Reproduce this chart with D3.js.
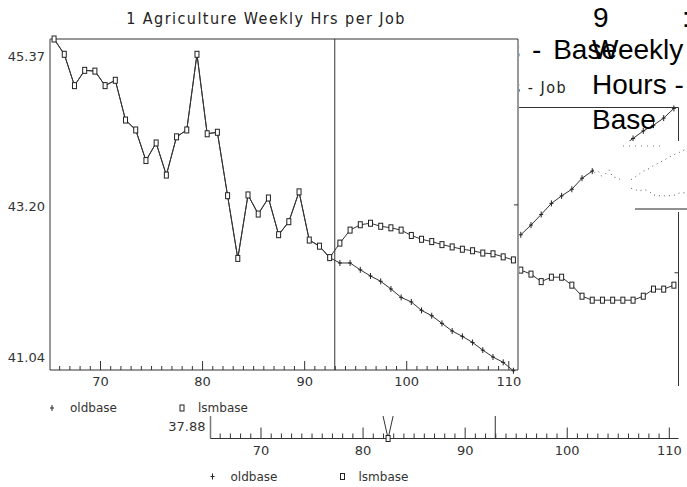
<!DOCTYPE html>
<html>
<head>
<meta charset="utf-8">
<script src="https://cdn.jsdelivr.net/npm/d3@7/dist/d3.min.js"></script>
<style>
  body { margin: 0; background: #fff; }
  svg { display: block; }
  .axisText { font-family: 'DejaVu Sans', sans-serif; font-size: 13px; fill: #333; }
  .legendText { font-family: 'DejaVu Sans', sans-serif; font-size: 12px; fill: #333; }
  .titleText { font-family: 'DejaVu Sans Condensed', 'DejaVu Sans', sans-serif; font-stretch: condensed; font-size: 16px; fill: #222; letter-spacing: 1.45px; }
  .bigText { font-family: 'Liberation Sans', Arial, sans-serif; font-size: 28px; fill: #000; }
</style>
</head>
<body>
<div id="chart"></div>
<script>
// Main window: both runs share the history up to 1992
var histYears = [1965, 1966, 1967, 1968, 1969, 1970, 1971, 1972, 1973, 1974,
    1975, 1976, 1977, 1978, 1979, 1980, 1981, 1982, 1983, 1984,
    1985, 1986, 1987, 1988, 1989, 1990, 1991, 1992];
var histValues = [45.37, 45.17, 44.76, 44.96, 44.95, 44.76, 44.83, 44.31, 44.18, 43.78,
    44.01, 43.59, 44.09, 44.18, 45.17, 44.13, 44.15, 43.32, 42.50, 43.33,
    43.08, 43.29, 42.81, 42.98, 43.37, 42.74, 42.66, 42.51];
var fcstYears = [1993, 1994, 1995, 1996, 1997, 1998, 1999, 2000, 2001,
    2002, 2003, 2004, 2005, 2006, 2007, 2008, 2009, 2010];
var lsmbaseFcst = [42.70, 42.87, 42.94, 42.96, 42.92, 42.90, 42.87, 42.80, 42.75,
    42.72, 42.68, 42.65, 42.62, 42.60, 42.57, 42.56, 42.52, 42.48];
var oldbaseFcst = [42.44, 42.44, 42.35, 42.27, 42.20, 42.10, 41.99, 41.93, 41.82,
    41.75, 41.65, 41.55, 41.48, 41.40, 41.30, 41.21, 41.14, 41.03];
var yTickValues = [45.37, 43.20, 41.04];
var xMajorTicks = [70, 80, 90, 100, 110];
var forecastStart = 93;
var mainTitle = '1 Agriculture Weekly Hrs per Job';
var seriesNames = ['oldbase', 'lsmbase'];

// Second window behind the main one, only its edges show
var backTitle = '1 Agriculture Weekly Hrs - Job';
var backYTicks = [45.37, 41.63, 37.88];
var backRightYears = [1995, 1996, 1997, 1998, 1999, 2000, 2001, 2002,
    2003, 2004, 2005, 2006, 2007, 2008, 2009, 2010];
var backRightLsmbase = [41.69, 41.60, 41.43, 41.53, 41.53, 41.35, 41.10, 41.01,
    41.01, 41.01, 41.01, 41.01, 41.10, 41.26, 41.26, 41.35];
var backRightOldbase = [42.49, 42.71, 42.95, 43.20, 43.37, 43.52, 43.77, 43.93,
    44.11, 44.30, 44.50, 44.67, 44.84, 44.97, 45.13, 45.35];
var backLowYears = [1981, 1982, 1983];
var backLowLsmbase = [38.91, 37.88, 38.91];

// Title window text on the right (justified lines)
var bigTitleTop = ['9', ':'];
var bigTitleLines = ['Weekly', 'Hours -', 'Base'];
var hiddenTitle = 'Weekly Hours - Base';

var svgWidth = 687;
var svgHeight = 487;

var svg = d3.select('#chart')
    .append('svg')
    .attr('width', svgWidth)
    .attr('height', svgHeight);

// points sit mid-year
function pos(year) {
    return year - 1900 + 0.5;
}

function drawPlus(g, pts) {
    g.selectAll('path.plus')
        .data(pts)
        .enter()
        .append('path')
        .attr('class', 'plus')
        .attr('d', (d) => `M${d[0] - 2},${d[1]}h4M${d[0]},${d[1] - 3}v6`)
        .attr('stroke', '#222')
        .attr('stroke-width', 1)
        .attr('fill', 'none');
}

function drawSquares(g, pts) {
    g.selectAll('rect.sq')
        .data(pts)
        .enter()
        .append('rect')
        .attr('class', 'sq')
        .attr('x', (d) => d[0] - 2)
        .attr('y', (d) => d[1] - 3)
        .attr('width', 4)
        .attr('height', 6)
        .attr('fill', '#fff')
        .attr('stroke', '#222')
        .attr('stroke-width', 1);
}

function zipSeries(years, values) {
    return years.map((y, i) => ({ year: y, value: values[i] }));
}

// One plot window, same layout for the front and back windows
function drawPanel(g, p) {
    var line = d3.line()
        .x((d) => p.x(pos(d.year)))
        .y((d) => p.y(d.value));

    // frame
    g.append('line').attr('x1', p.left).attr('x2', p.right).attr('y1', p.top).attr('y2', p.top)
        .attr('stroke', '#333');
    g.append('line').attr('x1', p.right).attr('x2', p.right).attr('y1', p.top).attr('y2', p.rightEnd || p.bottom)
        .attr('stroke', '#333');
    g.append('line').attr('x1', p.left).attr('x2', p.left).attr('y1', p.top).attr('y2', p.bottom)
        .attr('stroke', '#777').attr('stroke-width', 1.5);
    g.append('line').attr('x1', p.x(forecastStart)).attr('x2', p.x(forecastStart))
        .attr('y1', p.top).attr('y2', p.bottom)
        .attr('stroke', '#333');

    // x axis: yearly minor ticks, labelled decades
    var minorAxis = d3.axisBottom(p.x)
        .tickValues(d3.range(66, 111).filter((v) => v % 10 !== 0))
        .tickSize(-p.minorTick)
        .tickSizeOuter(0)
        .tickFormat('');
    var majorAxis = d3.axisBottom(p.x)
        .tickValues(xMajorTicks)
        .tickSize(-p.majorTick)
        .tickSizeOuter(0)
        .tickPadding(7);
    var xa = g.append('g').attr('transform', `translate(0, ${p.bottom})`).call(minorAxis);
    var xb = g.append('g').attr('transform', `translate(0, ${p.bottom})`).call(majorAxis);
    [xa, xb].forEach((a) => {
        a.select('.domain').remove();
        a.selectAll('line').attr('stroke', '#333');
    });
    xb.selectAll('text').attr('class', 'axisText').attr('font-family', null).attr('font-size', null).attr('fill', null);
    g.append('line').attr('x1', p.left).attr('x2', p.right).attr('y1', p.bottom).attr('y2', p.bottom)
        .attr('stroke', '#333');

    // y labels (end labels pulled inside the frame) and right tick
    var lo = d3.min(p.y.domain());
    var hi = d3.max(p.y.domain());
    p.yTicks.forEach((v) => {
        var ty = p.y(v);
        var shift = (v === hi) ? 22 : (v === lo ? -8 : 6);
        g.append('text')
            .attr('class', 'axisText')
            .attr('x', p.left - 5)
            .attr('y', ty + shift)
            .attr('text-anchor', 'end')
            .text(v.toFixed(2));
        if (v !== hi && v !== lo) {
            g.append('line').attr('x1', p.right - 4).attr('x2', p.right).attr('y1', ty).attr('y2', ty)
                .attr('stroke', '#333');
        }
    });

    // title
    g.append('text')
        .attr('class', 'titleText')
        .attr('x', p.left + 216)
        .attr('y', p.top - 15)
        .attr('text-anchor', p.titleAnchor || 'middle')
        .text(p.title);

    // legend
    var ly = p.bottom + 38;
    drawPlus(g.append('g'), [[p.left + 2, ly]]);
    g.append('text').attr('class', 'legendText').attr('x', p.left + 20).attr('y', ly + 4).text(seriesNames[0]);
    drawSquares(g.append('g'), [[p.left + 132, ly]]);
    g.append('text').attr('class', 'legendText').attr('x', p.left + 148).attr('y', ly + 4).text(seriesNames[1]);

    // series
    p.series.forEach((s) => {
        g.append('path')
            .datum(s.data)
            .attr('d', line)
            .attr('fill', 'none')
            .attr('stroke', '#333')
            .attr('stroke-width', 1);
        var pts = s.data.map((d) => [p.x(pos(d.year)), p.y(d.value)]);
        var mg = g.append('g');
        if (s.marker === 'plus') drawPlus(mg, pts);
        else drawSquares(mg, pts);
    });
}

// ---------- back window ----------
var backG = svg.append('g');
backG.append('rect').attr('x', 160).attr('y', 72).attr('width', 527).attr('height', 415).attr('fill', '#fff');
drawPanel(backG, {
    x: d3.scaleLinear().domain([65, 110]).range([209.46, 668.8]),
    y: d3.scaleLinear().domain([37.88, 45.37]).range([438.5, 107.5]),
    left: 210.5, right: 678.5, top: 107.5, bottom: 438.5, rightEnd: 386,
    minorTick: 5, majorTick: 11,
    yTicks: backYTicks,
    title: backTitle,
    series: [
        { data: zipSeries(backRightYears, backRightOldbase), marker: 'plus' },
        { data: zipSeries(backRightYears, backRightLsmbase), marker: 'square' },
        { data: zipSeries(backLowYears, backLowLsmbase), marker: 'square' }
    ]
});
// the back title ends where the main title would end
backG.select('.titleText').attr('x', 567).attr('text-anchor', 'end');

// ---------- title window text ----------
var titleG = svg.append('g');
titleG.append('text').attr('class', 'bigText')
    .attr('x', 617).attr('y', 59).attr('text-anchor', 'end')
    .attr('word-spacing', 4).text(hiddenTitle);
titleG.append('text').attr('class', 'bigText').attr('x', 593).attr('y', 27).text(bigTitleTop[0]);
titleG.append('text').attr('class', 'bigText').attr('x', 682).attr('y', 27).text(bigTitleTop[1]);
bigTitleLines.forEach((t, i) => {
    titleG.append('text').attr('class', 'bigText')
        .attr('x', 592).attr('y', 59 + i * 35).text(t);
});

// ---------- garbled patch: faint shrunken copy of the back window ----------
var patch = svg.append('g');
patch.append('clipPath').attr('id', 'patchClip')
    .append('rect').attr('x', 594).attr('y', 141).attr('width', 93).attr('height', 71);
patch.append('rect').attr('x', 594).attr('y', 141).attr('width', 93).attr('height', 71).attr('fill', '#fff');
var mini = patch.append('g').attr('clip-path', 'url(#patchClip)');
var miniX = d3.scaleLinear().domain([65, 110]).range([518, 685]);
var miniY = d3.scaleLinear().domain([37.88, 45.37]).range([230, 148]);
var miniLine = d3.line().x((d) => miniX(pos(d.year))).y((d) => miniY(d.value));
[zipSeries(backRightYears, backRightOldbase), zipSeries(backRightYears, backRightLsmbase),
    zipSeries(histYears, histValues)].forEach((s) => {
    mini.append('path').datum(s).attr('d', miniLine)
        .attr('fill', 'none').attr('stroke', '#555').attr('stroke-width', 1)
        .attr('stroke-dasharray', '1 4');
});
mini.append('line').attr('x1', 635).attr('x2', 687).attr('y1', 209).attr('y2', 209).attr('stroke', '#222');
mini.append('line').attr('x1', 623).attr('x2', 665).attr('y1', 146).attr('y2', 146)
    .attr('stroke', '#777').attr('stroke-dasharray', '1 5');

// ---------- main window (front) ----------
var mainG = svg.append('g');
mainG.append('rect').attr('x', 0).attr('y', 0).attr('width', 519).attr('height', 416).attr('fill', '#fff');
var oldbaseAll = zipSeries(histYears.concat(fcstYears), histValues.concat(oldbaseFcst));
var lsmbaseAll = zipSeries(histYears.concat(fcstYears), histValues.concat(lsmbaseFcst));
drawPanel(mainG, {
    x: d3.scaleLinear().domain([65, 110]).range([48.96, 508.3]),
    y: d3.scaleLinear().domain([41.04, 45.37]).range([370, 39]),
    left: 50, right: 518, top: 39, bottom: 370,
    minorTick: 4, majorTick: 9,
    yTicks: yTickValues,
    title: mainTitle,
    series: [
        { data: oldbaseAll, marker: 'plus' },
        { data: lsmbaseAll, marker: 'square' }
    ]
});
</script>
</body>
</html>
